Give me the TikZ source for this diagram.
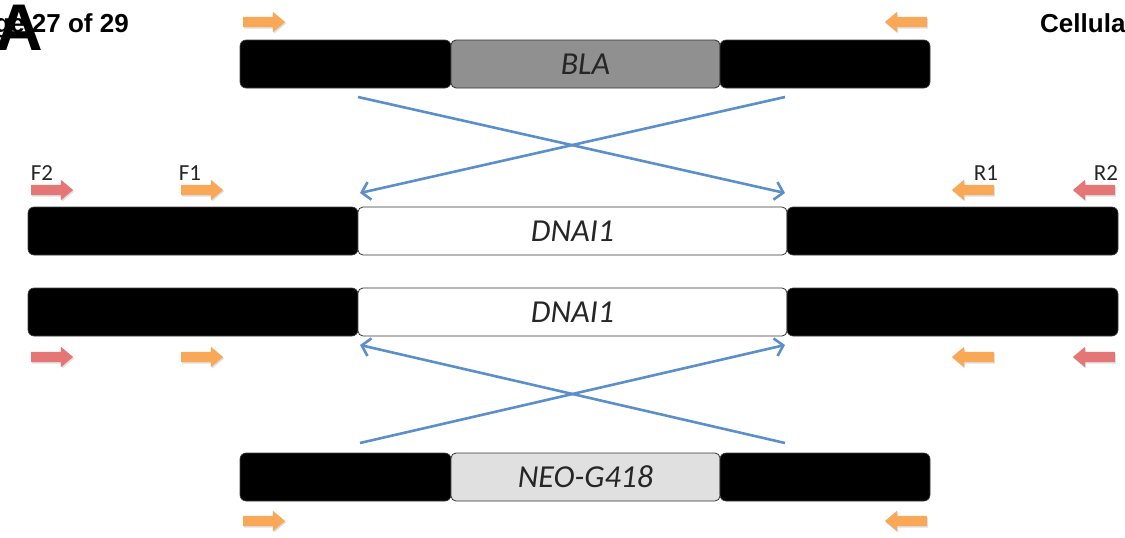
\documentclass[tikz,border=0pt]{standalone}
\usepackage{fontspec}
\setmainfont{Carlito}
\newfontfamily\headfont{Liberation Sans}
\usetikzlibrary{arrows.meta,shapes.arrows,shadows}

\definecolor{primerorange}{HTML}{F9A857}
\definecolor{primerred}{HTML}{E57676}
\definecolor{linkblue}{HTML}{5A8FCB}
\definecolor{blagrey}{HTML}{909090}
\definecolor{neogrey}{HTML}{E0E0E0}

\tikzset{
  armbox/.style={rectangle, fill=black, draw=black!75, line width=0.6pt,
    rounded corners=6pt, minimum height=48pt, inner sep=0pt},
  genebox/.style={rectangle, draw=black!80, line width=0.8pt,
    rounded corners=5pt, minimum height=48pt, inner sep=0pt,
    font=\fontsize{32}{34}\selectfont\itshape, text=black!85},
  primer/.style={single arrow, draw=none, minimum height=42pt,
    minimum width=20pt, inner sep=5pt, single arrow head extend=5pt,
    single arrow tip angle=80,
    drop shadow={shadow xshift=1pt, shadow yshift=-1.5pt, opacity=0.25}},
  fwd/.style={primer, shape border rotate=0},
  rev/.style={primer, shape border rotate=180},
  primerlabel/.style={font=\fontsize{23}{25}\selectfont, text=black!85,
    inner sep=0pt, anchor=base},
  swap/.style={draw=linkblue, line width=2.6pt,
    -{Straight Barb[length=8pt,width=18pt]}},
  header/.style={font=\headfont\bfseries\fontsize{26}{28}\selectfont,
    inner sep=0pt}
}

\begin{document}
\begin{tikzpicture}[x=1pt, y=-1pt]
\useasboundingbox (0,0) rectangle (1125,538);

% page header and panel letter
\node[header, anchor=base east] (pagenum) at (129,32) {ge 27 of 29};
\node[header, anchor=base west] (journal) at (1040,32) {Cellula};
\node[font=\headfont\bfseries\fontsize{66}{66}\selectfont, inner sep=0pt,
      anchor=base west] (panel) at (-5,50) {A};

% BLA replacement cassette
\node[armbox, minimum width=211pt] (bla-l) at (345.5,64) {};
\node[genebox, fill=blagrey, minimum width=269pt] (bla) at (585.5,64) {BLA};
\node[armbox, minimum width=210pt] (bla-r) at (825,64) {};
\node[fwd, fill=primerorange] (bla-f) at (261,22) {};
\node[rev, fill=primerorange] (bla-r1) at (909,22) {};

% DNAI1 allele 1
\node[armbox, minimum width=330pt] (a1-l) at (193,231) {};
\node[genebox, fill=white, minimum width=429pt] (a1) at (572.5,231) {DNAI1};
\node[armbox, minimum width=331pt] (a1-r) at (952.5,231) {};
\node[fwd, fill=primerred] (a1-f2) at (49,190) {};
\node[fwd, fill=primerorange] (a1-f1) at (199,190) {};
\node[rev, fill=primerorange] (a1-r1) at (976,190) {};
\node[rev, fill=primerred] (a1-r2) at (1097,190) {};
\node[primerlabel] (lf2) at (42,180) {F2};
\node[primerlabel] (lf1) at (190,180) {F1};
\node[primerlabel] (lr1) at (986,180) {R1};
\node[primerlabel] (lr2) at (1106,180) {R2};

% DNAI1 allele 2
\node[armbox, minimum width=330pt] (a2-l) at (193,312) {};
\node[genebox, fill=white, minimum width=429pt] (a2) at (572.5,312) {DNAI1};
\node[armbox, minimum width=331pt] (a2-r) at (952.5,312) {};
\node[fwd, fill=primerred] (a2-f2) at (49,357) {};
\node[fwd, fill=primerorange] (a2-f1) at (199,357) {};
\node[rev, fill=primerorange] (a2-r1) at (976,357) {};
\node[rev, fill=primerred] (a2-r2) at (1097,357) {};

% NEO-G418 replacement cassette
\node[armbox, minimum width=211pt] (neo-l) at (345.5,477) {};
\node[genebox, fill=neogrey, minimum width=269pt] (neo) at (585.5,477) {NEO-G418};
\node[armbox, minimum width=210pt] (neo-r) at (825,477) {};
\node[fwd, fill=primerorange] (neo-f) at (261,521) {};
\node[rev, fill=primerorange] (neo-r1) at (909,521) {};

% crossover ends
\coordinate (blaL) at (358,97);
\coordinate (blaR) at (785,97);
\coordinate (a1L) at (360,193);
\coordinate (a1R) at (785,193);
\coordinate (a2L) at (360,345);
\coordinate (a2R) at (785,345);
\coordinate (neoL) at (360,443);
\coordinate (neoR) at (785,443);

% homologous recombination crossovers
\draw[swap] (blaL) -- (a1R);
\draw[swap] (blaR) -- (a1L);
\draw[swap] (neoL) -- (a2R);
\draw[swap] (neoR) -- (a2L);
\end{tikzpicture}
\end{document}
